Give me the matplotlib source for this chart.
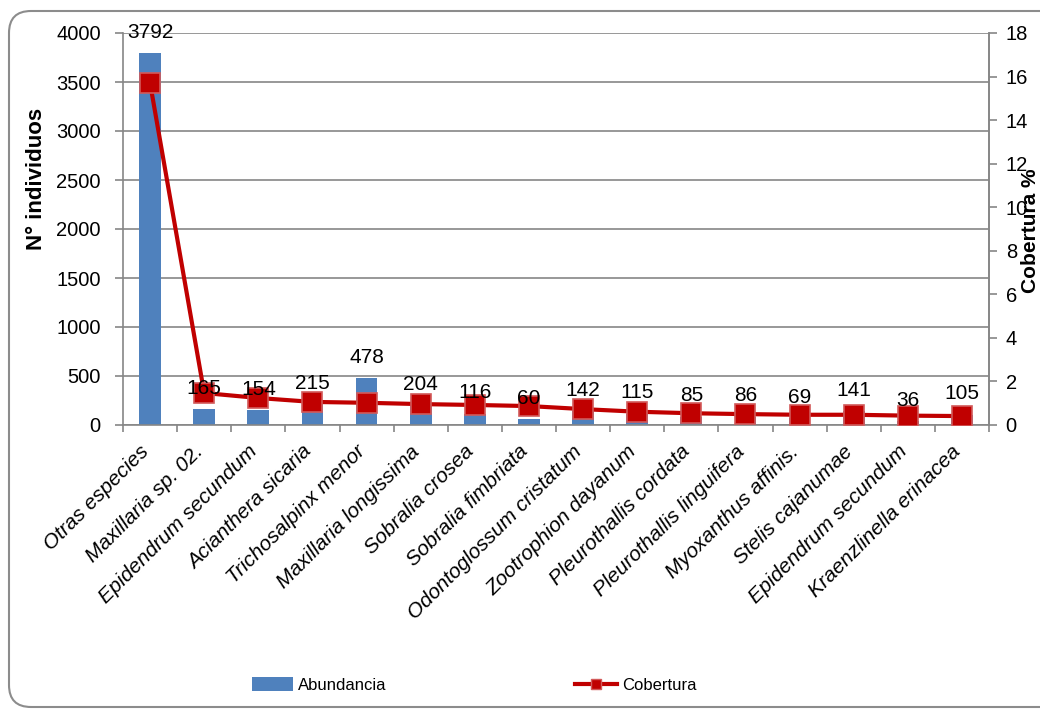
import matplotlib.pyplot as plt
import matplotlib.transforms as mtransforms
from matplotlib.patches import FancyBboxPatch
from matplotlib.lines import Line2D
from matplotlib.patches import Patch

plt.rcParams['font.family'] = ['Liberation Sans', 'DejaVu Sans']

especies = ['Otras especies', 'Maxillaria sp. 02.', 'Epidendrum secundum',
            'Acianthera sicaria', 'Trichosalpinx menor', 'Maxillaria longissima',
            'Sobralia crosea', 'Sobralia fimbriata', 'Odontoglossum cristatum',
            'Zootrophion dayanum', 'Pleurothallis cordata', 'Pleurothallis linguifera',
            'Myoxanthus affinis.', 'Stelis cajanumae', 'Epidendrum secundum',
            'Kraenzlinella erinacea']
abundancia = [3792, 165, 154, 215, 478, 204, 116, 60, 142, 115, 85, 86, 69, 141, 36, 105]
cobertura = [15.7, 1.47, 1.24, 1.06, 1.02, 0.96, 0.92, 0.87, 0.73, 0.61, 0.54, 0.50,
             0.47, 0.47, 0.43, 0.41]

BLUE = '#4F81BD'
RED = '#C00000'
GRAY = '#868686'

W, H = 1040, 709
fig = plt.figure(figsize=(W / 100, H / 100), dpi=100)

# rounded outer frame (pixel coordinates), kept behind the axes
frame = FancyBboxPatch((9, 2), 1100, 696, boxstyle='round,pad=0,rounding_size=22',
                       transform=mtransforms.IdentityTransform(),
                       facecolor='white', edgecolor='#8C8C8C', linewidth=1.5,
                       zorder=-10)
fig.patches.append(frame)

ax = fig.add_axes([123 / W, 1 - 425 / H, (989 - 123) / W, (425 - 33) / H])
ax.set_facecolor('none')
x = list(range(len(especies)))

ax.bar(x, abundancia, width=0.4, color=BLUE, zorder=2)
ax.set_xlim(-0.5, len(especies) - 0.5)
ax.set_ylim(0, 4000)
ax.set_yticks(range(0, 4001, 500))
ax.yaxis.grid(True, color=GRAY, linewidth=1.2, zorder=0)
ax.set_axisbelow(True)

ax.spines['top'].set_visible(False)
for s in ['left', 'bottom', 'right']:
    ax.spines[s].set_color(GRAY)
    ax.spines[s].set_linewidth(1.2)

ax.set_xticks(x)
ax.set_xticklabels(especies, rotation=45, ha='right', va='center',
                   rotation_mode='anchor', fontstyle='italic', fontsize=15)
ax.tick_params(axis='x', length=0, pad=17)
# nudge the slanted names a little to the left
shift = mtransforms.ScaledTranslation(-4 / 100, 0, fig.dpi_scale_trans)
for lbl in ax.get_xticklabels():
    lbl.set_transform(lbl.get_transform() + shift)
ax.set_xticks([i - 0.5 for i in range(len(especies) + 1)], minor=True)
ax.tick_params(axis='x', which='minor', length=5, color=GRAY, width=1.2)
ax.tick_params(axis='y', length=6, color=GRAY, width=1.2, labelsize=14.5, pad=10)

ax2 = ax.twinx()
ax2.plot(x, cobertura, color=RED, linewidth=3, marker='s', markersize=14,
         markerfacecolor=RED, markeredgecolor='#D25A5A', markeredgewidth=1.2,
         zorder=3)
ax2.set_ylim(0, 18)
ax2.set_yticks(range(0, 19, 2))
ax2.tick_params(axis='y', length=6, color=GRAY, width=1.2, labelsize=14.5, pad=6)
for s in ['top', 'left', 'bottom']:
    ax2.spines[s].set_visible(False)
ax2.spines['right'].set_color(GRAY)
ax2.spines['right'].set_linewidth(1.2)

# value labels above each bar
for i, v in enumerate(abundancia):
    ax2.annotate(str(v), xy=(i, v), xycoords=ax.transData, xytext=(0, 11),
                 textcoords='offset points', ha='center', va='baseline',
                 fontsize=15, zorder=5)

# axis titles
fig.text(37 / W, 1 - 179 / H, 'N° individuos', rotation=90, ha='center',
         va='center', fontsize=16, fontweight='bold')
fig.text(1030 / W, 1 - 231 / H, 'Cobertura %', rotation=90, ha='center',
         va='center', fontsize=15, fontweight='bold')

handles = [Patch(facecolor=BLUE, edgecolor='none'),
           Line2D([], [], color=RED, linewidth=3, marker='s', markersize=7.5,
                  markerfacecolor=RED, markeredgecolor='#D25A5A')]
fig.legend(handles, ['Abundancia', 'Cobertura'], loc='center',
           bbox_to_anchor=(474 / W, 1 - 685 / H), ncol=2, frameon=False,
           fontsize=12, handlelength=2.5, handleheight=0.9, handletextpad=0.3,
           columnspacing=11.3)

fig.savefig('out.png', dpi=100)
